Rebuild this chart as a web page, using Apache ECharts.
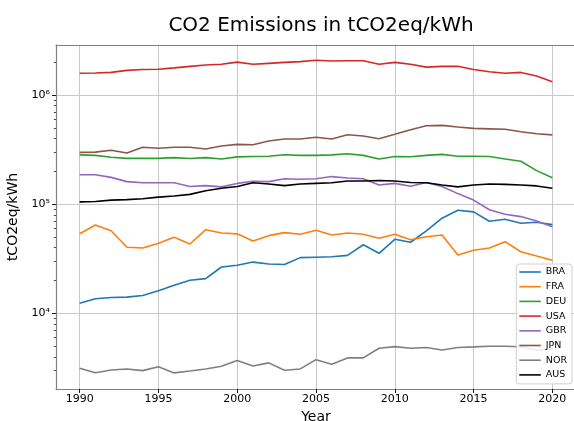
<!DOCTYPE html>
<html>
<head>
<meta charset="utf-8">
<script src="https://cdn.jsdelivr.net/npm/echarts@6/dist/echarts.min.js"></script>
<style>
  html, body { margin: 0; padding: 0; background: #ffffff; }
  #chart { width: 574px; height: 421px; }
</style>
</head>
<body>
<div id="chart"></div>
<script>
// Yearly emissions per country (tCO2eq/kWh), 1990-2020
const years = [1990, 1991, 1992, 1993, 1994, 1995, 1996, 1997, 1998, 1999,
               2000, 2001, 2002, 2003, 2004, 2005, 2006, 2007, 2008, 2009,
               2010, 2011, 2012, 2013, 2014, 2015, 2016, 2017, 2018, 2019, 2020];

const BRA = [12400, 13600, 14000, 14100, 14600, 16100, 18100, 20100, 20800, 26600,
             27600, 29500, 28300, 28000, 32400, 32700, 33000, 34000, 42500, 35500,
             47700, 44800, 56900, 74400, 88000, 85000, 69800, 72800, 67000, 68400, 65000];
const FRA = [53700, 64500, 57200, 40300, 39700, 43900, 49800, 43200, 58400, 54500,
             53500, 46000, 51500, 54900, 53000, 57800, 52200, 54500, 53000, 48700,
             53000, 47300, 50400, 52200, 34300, 37900, 39700, 45400, 36700, 33500, 30700];
const DEU = [283000, 280000, 269000, 263000, 263000, 263000, 267000, 262000, 267000, 259000,
             271000, 273000, 275000, 284000, 280000, 280000, 283000, 290000, 280000, 259000,
             273000, 272000, 280000, 286000, 275000, 275000, 273000, 259000, 247000, 203000, 175000];
const USA = [1580000, 1590000, 1610000, 1680000, 1710000, 1720000, 1770000, 1830000, 1880000, 1910000,
             2000000, 1910000, 1950000, 1990000, 2020000, 2080000, 2050000, 2060000, 2060000, 1910000,
             1990000, 1910000, 1800000, 1830000, 1830000, 1710000, 1630000, 1580000, 1610000, 1490000, 1320000];
const GBR = [186000, 186000, 176000, 161000, 157000, 157000, 157000, 145000, 148000, 144000,
             155000, 162000, 161000, 171000, 169000, 171000, 179000, 174000, 171000, 150000,
             155000, 146000, 158000, 145000, 125000, 109000, 89000, 81000, 77000, 70000, 62000];
const JPN = [298000, 300000, 312000, 294000, 332000, 325000, 332000, 332000, 320000, 341000,
             353000, 350000, 379000, 396000, 396000, 410000, 396000, 433000, 421000, 398000,
             437000, 481000, 523000, 527000, 509000, 495000, 490000, 485000, 461000, 442000, 431000];
const NOR = [3140, 2860, 3030, 3100, 2990, 3250, 2850, 2970, 3100, 3280,
             3710, 3300, 3520, 3010, 3100, 3770, 3420, 3910, 3910, 4790,
             4960, 4790, 4870, 4620, 4870, 4930, 5000, 5000, 4950, 4600, 4700];
const AUS = [105000, 106000, 109000, 110000, 112000, 116000, 119000, 123000, 133000, 140000,
             145000, 157000, 153000, 148000, 153000, 155000, 157000, 163000, 163000, 165000,
             163000, 158000, 157000, 150000, 144000, 150000, 153000, 152000, 150000, 147000, 140000];

const countries = ['BRA', 'FRA', 'DEU', 'USA', 'GBR', 'JPN', 'NOR', 'AUS'];
const seriesValues = [BRA, FRA, DEU, USA, GBR, JPN, NOR, AUS];
const colors = ['#1f77b4', '#ff7f0e', '#2ca02c', '#d62728', '#9467bd', '#8c564b', '#7f7f7f', '#000000'];

// Axis ticks
const yearTicks = [1990, 1995, 2000, 2005, 2010, 2015, 2020];
const decadeTicks = [10000, 100000, 1000000];
const decadeLabels = { 10000: '10\u2074', 100000: '10\u2075', 1000000: '10\u2076' };
const minorTicks = [3000, 4000, 5000, 6000, 7000, 8000, 9000,
                    20000, 30000, 40000, 50000, 60000, 70000, 80000, 90000,
                    200000, 300000, 400000, 500000, 600000, 700000, 800000, 900000, 2000000];

const FONT = 'DejaVu Sans';
const spineColor = '#808080';
const gridColor = '#c8c8c8';

const chart = echarts.init(document.getElementById('chart'), null, { renderer: 'canvas' });

const series = countries.map((name, i) => ({
  name: name,
  type: 'line',
  xAxisIndex: 0,
  yAxisIndex: 0,
  symbol: 'none',
  showSymbol: false,
  data: years.map((yr, j) => [yr, seriesValues[i][j]]),
  lineStyle: { color: colors[i], width: 1.6 },
  itemStyle: { color: colors[i] },
  emphasis: { disabled: true },
  animation: false
}));

chart.setOption({
  animation: false,
  textStyle: { fontFamily: FONT },
  title: {
    text: 'CO2 Emissions in tCO2eq/kWh',
    left: 316,
    textAlign: 'center',
    top: 11,
    textStyle: { fontFamily: FONT, fontSize: 20, fontWeight: 'normal', color: '#000' }
  },
  grid: {
    left: 56,
    top: 45,
    width: 520,
    height: 344,
    containLabel: false,
    outerBoundsMode: 'none',
    show: false
  },
  legend: {
    data: countries,
    orient: 'vertical',
    right: 2,
    top: 264,
    icon: 'rect',
    itemWidth: 21.5,
    itemHeight: 1.6,
    itemGap: 2.7,
    padding: [2, 5, 3, 3],
    backgroundColor: 'rgba(255,255,255,0.85)',
    borderColor: '#d0d0d0',
    borderWidth: 1,
    borderRadius: 3,
    textStyle: { fontFamily: FONT, fontSize: 9.5, lineHeight: 12, color: '#000' }
  },
  xAxis: [{
    type: 'value',
    min: 1988.5,
    max: 2021.5,
    name: 'Year',
    nameLocation: 'middle',
    nameGap: 19,
    nameTextStyle: { fontFamily: FONT, fontSize: 14, color: '#000' },
    axisLine: { show: true, onZero: false, lineStyle: { color: spineColor, width: 1.2 } },
    axisTick: { show: true, length: 4, customValues: yearTicks, lineStyle: { color: '#000', width: 0.9 } },
    axisLabel: { customValues: yearTicks, fontSize: 11, color: '#000', margin: 5,
                 formatter: v => String(v) },
    splitLine: { show: true, lineStyle: { color: gridColor, width: 1 } }
  }, {
    // top spine of the plot frame
    type: 'value',
    position: 'top',
    min: 1988.5,
    max: 2021.5,
    axisLine: { show: true, onZero: false, lineStyle: { color: spineColor, width: 1.2 } },
    axisTick: { show: false },
    axisLabel: { show: false },
    splitLine: { show: false }
  }],
  yAxis: [{
    type: 'log',
    logBase: 10,
    min: 2030,
    max: 2870000,
    name: 'tCO2eq/kWh',
    nameLocation: 'middle',
    nameGap: 29,
    nameRotate: 90,
    nameTextStyle: { fontFamily: FONT, fontSize: 14, color: '#000' },
    axisLine: { show: true, onZero: false, lineStyle: { color: spineColor, width: 1.2 } },
    axisTick: { show: true, length: 4, customValues: decadeTicks, lineStyle: { color: '#000', width: 0.9 } },
    axisLabel: { customValues: decadeTicks, fontSize: 11, color: '#000', margin: 6,
                 formatter: v => decadeLabels[Math.round(v)] || '' },
    splitLine: { show: true, lineStyle: { color: gridColor, width: 1 } }
  }, {
    type: 'log',
    logBase: 10,
    min: 2030,
    max: 2870000,
    position: 'left',
    axisLine: { show: false },
    axisLabel: { show: false },
    splitLine: { show: false },
    axisTick: { show: true, length: 2.2, customValues: minorTicks, lineStyle: { color: '#000', width: 0.7 } }
  }],
  series: series
});
</script>
</body>
</html>
